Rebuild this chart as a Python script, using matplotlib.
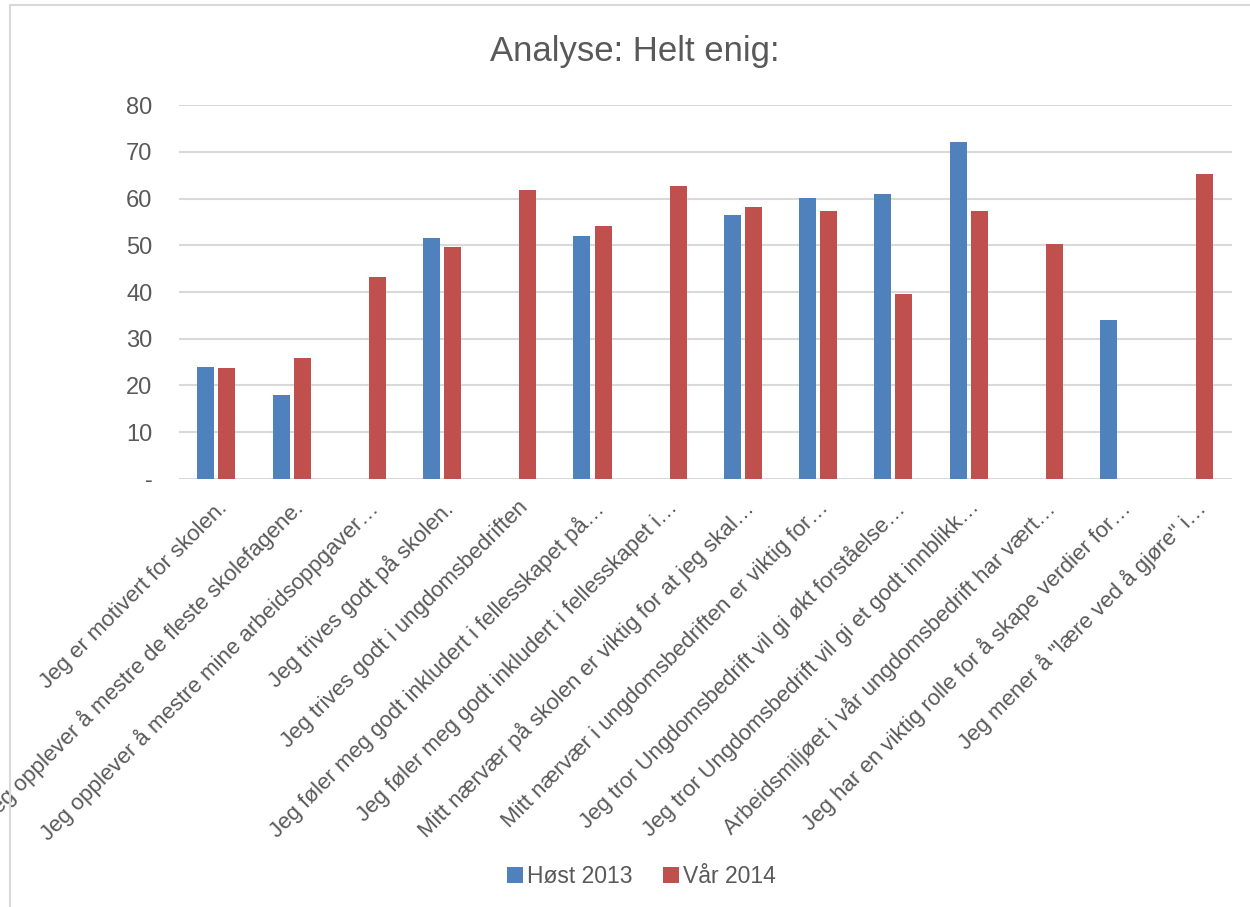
import matplotlib
matplotlib.use("Agg")
import matplotlib.pyplot as plt
import numpy as np
from matplotlib.patches import Rectangle

kategorier = [
    "Jeg er motivert for skolen.",
    "Jeg opplever å mestre de fleste skolefagene.",
    "Jeg opplever å mestre mine arbeidsoppgaver…",
    "Jeg trives godt på skolen.",
    "Jeg trives godt i ungdomsbedriften",
    "Jeg føler meg godt inkludert i fellesskapet på…",
    "Jeg føler meg godt inkludert i fellesskapet i…",
    "Mitt nærvær på skolen er viktig for at jeg skal…",
    "Mitt nærvær i ungdomsbedriften er viktig for…",
    "Jeg tror Ungdomsbedrift vil gi økt forståelse…",
    "Jeg tror Ungdomsbedrift vil gi et godt innblikk…",
    "Arbeidsmiljøet i vår ungdomsbedrift har vært…",
    "Jeg har en viktig rolle for å skape verdier for…",
    "Jeg mener å \"lære ved å gjøre\" i…",
]
host_2013 = [24.0, 18.0, 0, 51.5, 0, 52.0, 0, 56.5, 60.1, 61.0, 72.0, 0, 34.0, 0]
var_2014 = [23.8, 25.9, 43.2, 49.6, 61.8, 54.1, 62.7, 58.2, 57.3, 39.6, 57.3, 50.3, 0, 65.2]
y_ticks = [0, 10, 20, 30, 40, 50, 60, 70, 80]
y_labels = ["-", "10", "20", "30", "40", "50", "60", "70", "80"]

plt.rcParams['font.family'] = ['Liberation Sans', 'DejaVu Sans']
tekst = '#595959'

fig = plt.figure(figsize=(12.5, 9.07), dpi=100)
ax = fig.add_axes([0.143, 0.4719, 0.8426, 0.4123])

x = np.arange(len(kategorier))
b = 0.226
ax.bar(x - 0.14, host_2013, b, color='#4F81BD', label='Høst 2013', zorder=3)
ax.bar(x + 0.14, var_2014, b, color='#C0504D', label='Vår 2014', zorder=3)

ax.set_xlim(-0.5, len(kategorier) - 0.5)
ax.set_ylim(0, 80)
ax.set_yticks(y_ticks)
ax.set_yticklabels(y_labels, fontsize=17, color=tekst)
ax.set_xticks(x)
ax.set_xticklabels(kategorier, rotation=45, ha='right', va='top',
                   rotation_mode='anchor', fontsize=16, color=tekst)
ax.tick_params(axis='x', length=0, pad=13)
ax.tick_params(axis='y', length=0, pad=19)
ax.yaxis.grid(True, color='#d9d9d9', linewidth=1.5, zorder=0)
for s in ax.spines.values():
    s.set_visible(False)

fig.text(0.508, 0.943, "Analyse: Helt enig:", ha='center', va='center',
         fontsize=25, color=tekst)

fig.legend(loc='center', bbox_to_anchor=(0.513, 0.034), ncol=2, frameon=False,
           fontsize=16.5, labelcolor=tekst, handlelength=0.7, handleheight=0.7,
           handletextpad=0.2, columnspacing=1.3)

fig.patches.append(Rectangle((0.008, -0.01), 1.0, 1.005, transform=fig.transFigure,
                             fill=False, edgecolor='#d9d9d9', linewidth=1.5))

fig.savefig("out.png", dpi=100)
